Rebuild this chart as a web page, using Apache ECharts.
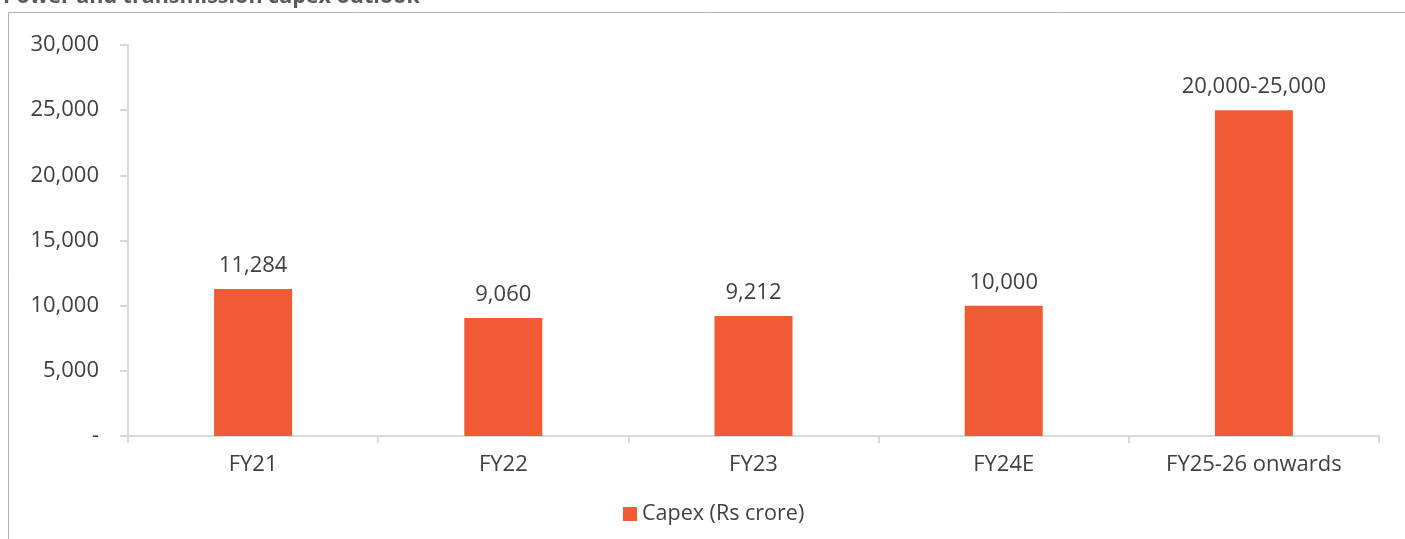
<!DOCTYPE html>
<html><head><meta charset="utf-8">
<script src="https://cdn.jsdelivr.net/npm/echarts@6/dist/echarts.min.js"></script>
<style>html,body{margin:0;padding:0;background:#fff}#c{width:1405px;height:539px}</style>
</head><body><div id="c"></div>
<script>
const titleText = 'Power and transmission capex outlook';
const categories = ['FY21', 'FY22', 'FY23', 'FY24E', 'FY25-26 onwards'];
const capex = [11284, 9060, 9212, 10000, 25000];
const barLabels = ['11,284', '9,060', '9,212', '10,000', '20,000-25,000'];
const seriesName = 'Capex (Rs crore)';
const yTicks = { min: 0, max: 30000, interval: 5000 };

const FONT = '"Open Sans", sans-serif';
const TXT = '#404040';
const AX = '#d9d9d9';
const FS = 22;
const chart = echarts.init(document.getElementById('c'), null, { renderer: 'canvas' });
chart.setOption({
  animation: false,
  textStyle: { fontFamily: FONT },
  title: {
    text: titleText, left: -2, top: -19,
    textStyle: { fontFamily: FONT, fontSize: 21.5, fontWeight: 'bold', color: '#595959' }
  },
  graphic: [{
    type: 'rect', silent: true,
    shape: { x: 8.5, y: 12.5, width: 1500, height: 700 },
    style: { fill: 'none', stroke: '#b0b0b0', lineWidth: 1 }
  }],
  grid: { left: 128, right: 26, top: 45, bottom: 103 },
  legend: {
    data: [seriesName], left: 623, top: 503, padding: 0,
    icon: 'rect', itemWidth: 14, itemHeight: 14, itemGap: 6,
    textStyle: { fontFamily: FONT, fontSize: 21.5, color: TXT }
  },
  xAxis: {
    type: 'category', data: categories,
    axisLine: { lineStyle: { color: AX, width: 2 } },
    axisTick: { show: true, length: 7, lineStyle: { color: AX, width: 2 } },
    axisLabel: { margin: 18, fontFamily: FONT, fontSize: FS, color: TXT },
    splitLine: { show: false }
  },
  yAxis: {
    type: 'value', min: yTicks.min, max: yTicks.max, interval: yTicks.interval,
    axisLine: { show: true, lineStyle: { color: AX, width: 2 } },
    axisTick: { show: true, length: 8, lineStyle: { color: AX, width: 2 } },
    axisLabel: {
      margin: 29, fontFamily: FONT, fontSize: FS, color: TXT,
      formatter: v => v === 0 ? '-' : v.toLocaleString('en-US')
    },
    splitLine: { show: false }
  },
  series: [{
    name: seriesName, type: 'bar', data: capex, barWidth: 78,
    itemStyle: { color: '#F05A35' },
    label: {
      show: true, position: 'top', distance: 12,
      fontFamily: FONT, fontSize: FS, color: TXT,
      formatter: p => barLabels[p.dataIndex]
    }
  }]
});
</script></body></html>
